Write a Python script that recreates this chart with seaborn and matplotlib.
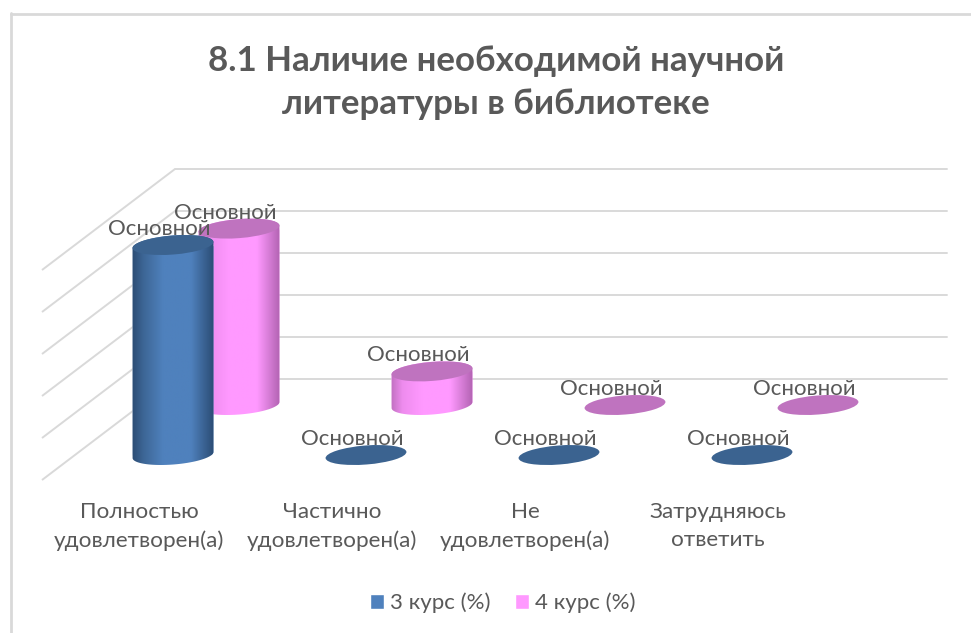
#!/usr/bin/env python3
# -*- coding: utf-8 -*-
import numpy as np
import matplotlib
matplotlib.use("Agg")
import matplotlib.pyplot as plt
import seaborn as sns
from matplotlib.colors import LinearSegmentedColormap
from matplotlib.lines import Line2D
from matplotlib.patches import Ellipse, Patch
from matplotlib.path import Path
from matplotlib.transforms import IdentityTransform, ScaledTranslation

TITLE = "8.1 Наличие необходимой научной\nлитературы в библиотеке"
CATEGORIES = ["Полностью\nудовлетворен(а)", "Частично\nудовлетворен(а)",
              "Не\nудовлетворен(а)", "Затрудняюсь\nответить"]
KURS_3 = [100, 0, 0, 0]
KURS_4 = [84, 16, 0, 0]
GRID_TICKS = [0, 20, 40, 60, 80, 100]
DATA_LABEL = "Основной"
SERIES_NAMES = ["3 курс (%)", "4 курс (%)"]

W, H = 971, 633
GREY = "#595959"
GRID = "#D9D9D9"
BLUE = ["#2B4C74", "#3D6696", "#4F81BD", "#4F81BD", "#2B4C74"]
PINK = ["#C070C0", "#EE8CEE", "#FF99FF", "#FF99FF", "#B263B2"]
STOPS = [0, 0.14, 0.38, 0.72, 1]
BLUE_TOP = "#3B6390"
PINK_TOP = "#BF73BF"

sns.set_theme(style="white")
plt.rcParams["font.family"] = ["Lato", "Open Sans", "DejaVu Sans"]

fig = plt.figure(figsize=(W / 100, H / 100), dpi=100)


def place(x0, x1, y_top, y_bot):
    ax = fig.add_axes([x0 / W, 1 - y_bot / H, (x1 - x0) / W, (y_bot - y_top) / H])
    ax.patch.set_visible(False)
    return ax


def series_axes(center0, base_y, values, color):
    # 193 px between categories, 2.1 px per percent
    ax = place(center0 - 96.5, center0 + 3 * 193 + 96.5,
               base_y - 115 * 2.1, base_y + 15 * 2.1)
    sns.barplot(x=CATEGORIES, y=values, color=color, width=0.42, ax=ax,
                saturation=1)
    ax.set_xlim(-0.5, 3.5)
    ax.set_ylim(-15, 115)
    ax.set_yticks([])
    ax.set_xlabel("")
    ax.set_ylabel("")
    sns.despine(ax=ax, left=True, bottom=True)
    return ax


def ring(cx, cy, a, b, theta, t0, t1):
    t = np.radians(np.linspace(t0, t1, 60))
    c, s = np.cos(theta), np.sin(theta)
    return np.column_stack([cx + a * np.cos(t) * c - b * np.sin(t) * s,
                            cy + a * np.cos(t) * s + b * np.sin(t) * c])


def draw_cylinders(ax, stops, top_color):
    cmap = LinearSegmentedColormap.from_list("cyl", list(zip(STOPS, stops)))
    theta = np.radians(4.5)
    b = 9.5
    for bar in list(ax.patches):
        left, width, height = bar.get_x(), bar.get_width(), bar.get_height()
        p0 = ax.transData.transform((left, 0))
        p1 = ax.transData.transform((left + width, height))
        a = (p1[0] - p0[0]) / 2
        cx = (p0[0] + p1[0]) / 2
        outline = np.vstack([ring(cx, p0[1], a, b, theta, 180, 360),
                             ring(cx, p1[1], a, b, theta, 0, 180)])
        path = Path(np.vstack([outline, outline[0]]), closed=True)
        bar.set_clip_path(path, IdentityTransform())
        if height > 0:
            im = ax.imshow(np.linspace(0, 1, 256)[None, :], cmap=cmap, aspect="auto",
                           extent=(left, left + width, -15, 115), zorder=2)
            im.set_clip_path(path, IdentityTransform())
        ax.add_patch(Ellipse((cx, p1[1]), 2 * a, 2 * b, angle=np.degrees(theta),
                             facecolor=top_color, edgecolor="none",
                             transform=IdentityTransform(), zorder=3))
        ax.annotate(DATA_LABEL, xy=(left + width / 2, height),
                    xytext=(-14, 16), textcoords="offset pixels",
                    ha="center", va="center", fontsize=16, color=GREY, zorder=5)
    ax.set_xlim(-0.5, 3.5)
    ax.set_ylim(-15, 115)


# back wall with its gridlines, side wall lines run towards the viewer
wall = place(175, 947, 169, 379)
wall.set_xlim(0, 1)
wall.set_ylim(0, 100)
wall.set_xticks([])
wall.set_yticks(GRID_TICKS)
wall.set_yticklabels([])
wall.tick_params(length=0)
wall.grid(axis="y", color=GRID, linewidth=1.4, clip_on=False)
sns.despine(ax=wall, left=True, bottom=True)
for tick in GRID_TICKS:
    wall.plot([-133 / 772, 0], [tick - 48.1, tick], color=GRID, linewidth=1.4,
              clip_on=False, solid_capstyle="butt")
wall.set_xlim(0, 1)
wall.set_ylim(0, 100)

back = series_axes(239, 405, KURS_4, PINK[2])
back.set_xticks([])
draw_cylinders(back, PINK, PINK_TOP)

front = series_axes(173, 455, KURS_3, BLUE[2])
draw_cylinders(front, BLUE, BLUE_TOP)
front.tick_params(axis="x", length=0, pad=11.5, labelsize=16.2, labelcolor=GREY)
shift = ScaledTranslation(-34 / 100, 0, fig.dpi_scale_trans)
for label in front.get_xticklabels():
    label.set_transform(label.get_transform() + shift)
    label.set_linespacing(1.47)

fig.text(496 / W, 1 - 82.5 / H, TITLE, ha="center", va="center", fontsize=25.1,
         fontweight="bold", color=GREY, linespacing=1.45)

handles = [Patch(facecolor=BLUE[2], label=SERIES_NAMES[0]),
           Patch(facecolor=PINK[2], label=SERIES_NAMES[1])]
fig.legend(handles=handles, loc="center", bbox_to_anchor=(503 / W, 1 - 603 / H),
           ncol=2, frameon=False, fontsize=16, labelcolor=GREY, handlelength=0.6,
           handleheight=0.6, handletextpad=0.3, columnspacing=1.1)

# chart frame
fig.add_artist(Line2D([10.5 / W, 10.5 / W], [0, 1 - 13 / H], color=GRID, linewidth=2))
fig.add_artist(Line2D([10.5 / W, 1], [1 - 13.5 / H, 1 - 13.5 / H], color=GRID, linewidth=2))

fig.savefig("out.png", dpi=100)
